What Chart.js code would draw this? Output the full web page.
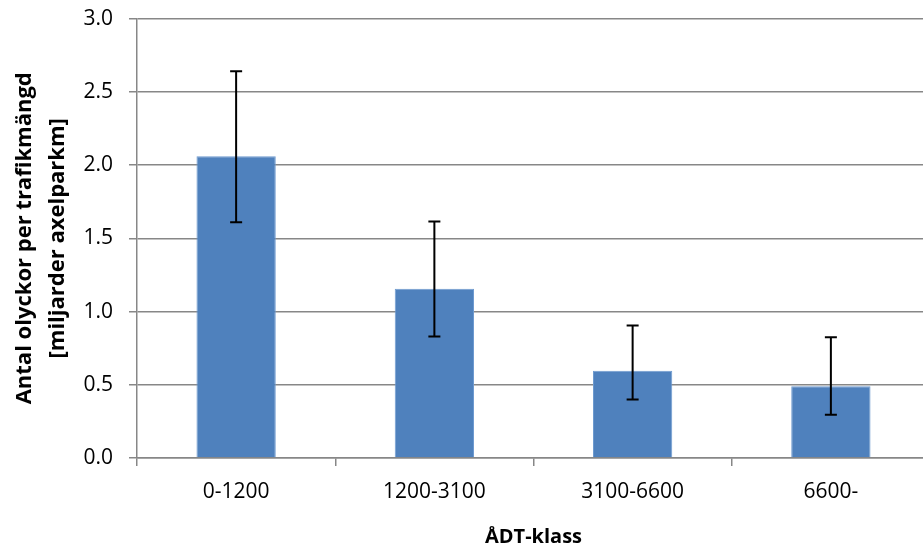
<!DOCTYPE html>
<html>
<head>
<meta charset="utf-8">
<script src="https://cdn.jsdelivr.net/npm/chart.js@4"></script>
<style>
  html, body { margin: 0; padding: 0; background: #fff; overflow: hidden; }
  #wrap { position: relative; top: -10px; width: 930px; height: 554px; }
</style>
</head>
<body>
<div id="wrap"><canvas id="myChart"></canvas></div>
<script>
// values
const categories = ["0-1200", "1200-3100", "3100-6600", "6600-"];
const rates = [2.06, 1.155, 0.595, 0.49];
const upper = [2.64, 1.615, 0.905, 0.825];
const lower = [1.61, 0.83, 0.40, 0.295];
const yTicks = [0, 0.5, 1.0, 1.5, 2.0, 2.5, 3.0];

const FONT = "'Open Sans', 'Noto Sans', sans-serif";

// whiskers drawn through the y scale
const errorBars = {
  id: "errorBars",
  afterDatasetsDraw(chart) {
    const ctx = chart.ctx;
    const y = chart.scales.y;
    const meta = chart.getDatasetMeta(0);
    ctx.save();
    ctx.strokeStyle = "#000";
    ctx.lineWidth = 2;
    meta.data.forEach((bar, i) => {
      const yt = y.getPixelForValue(upper[i]);
      const yb = y.getPixelForValue(lower[i]);
      const x = bar.x;
      ctx.beginPath();
      ctx.moveTo(x, yt); ctx.lineTo(x, yb);
      ctx.moveTo(x - 6, yt); ctx.lineTo(x + 6, yt);
      ctx.moveTo(x - 6, yb); ctx.lineTo(x + 6, yb);
      ctx.stroke();
    });
    ctx.restore();
  }
};

const ctx = document.getElementById("myChart").getContext("2d");
new Chart(ctx, {
  type: "bar",
  data: {
    labels: categories,
    datasets: [{
      label: "Antal olyckor",
      data: rates,
      backgroundColor: "#4F81BD",
      borderColor: "#6f9bd0",
      borderWidth: 1,
      barPercentage: 0.4,
      categoryPercentage: 1.0
    }]
  },
  options: {
    responsive: true,
    maintainAspectRatio: false,
    animation: false,
    layout: { padding: 0 },
    plugins: {
      legend: { display: false },
      tooltip: { enabled: false }
    },
    scales: {
      x: {
        offset: true,
        grid: {
          offset: true,
          drawOnChartArea: false,
          color: "#878787",
          lineWidth: 1.5,
          tickLength: 8
        },
        border: { color: "#878787", width: 1.5 },
        ticks: { color: "#000", font: { family: FONT, size: 21 }, padding: 13 },
        title: {
          display: true,
          text: "ÅDT-klass",
          color: "#000",
          font: { family: FONT, size: 20, weight: "bold" },
          padding: { top: 8, bottom: -5 }
        },
        afterFit(scale) { scale.height = 86; }
      },
      y: {
        min: 0,
        max: 3,
        afterBuildTicks(scale) { scale.ticks = yTicks.map(v => ({ value: v })); },
        grid: { color: "#878787", lineWidth: 1.5, tickLength: 8 },
        border: { color: "#878787", width: 1.5 },
        ticks: {
          color: "#000",
          font: { family: FONT, size: 21 },
          padding: 16,
          callback: v => Number(v).toFixed(1)
        },
        title: {
          display: true,
          text: ["Antal olyckor per trafikmängd", "[miljarder axelparkm]"],
          color: "#000",
          font: { family: FONT, size: 22, weight: "bold", lineHeight: 1.5 },
          padding: { top: 8, bottom: 6 }
        },
        afterFit(scale) { scale.width = 137; }
      }
    }
  },
  plugins: [errorBars]
});
</script>
</body>
</html>
